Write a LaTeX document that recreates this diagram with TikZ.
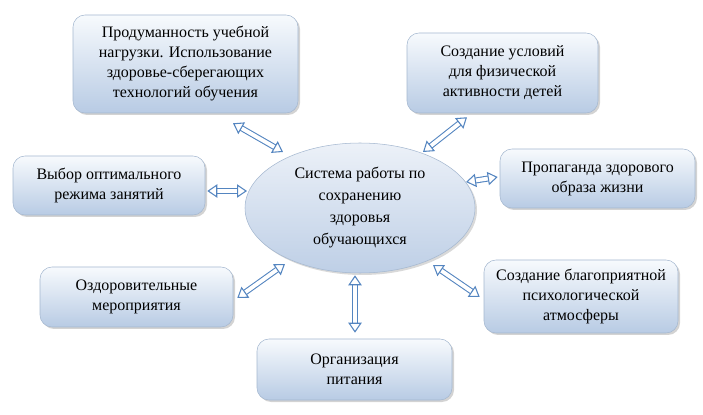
\documentclass[tikz,border=0pt]{standalone}
\usepackage{fontspec}
\setmainfont{Liberation Serif}
\usetikzlibrary{arrows.meta,shadows,shapes.geometric}

\definecolor{arrowblue}{RGB}{84,133,192}
\definecolor{boxtop}{RGB}{247,250,253}
\definecolor{boxbottom}{RGB}{184,203,228}
\definecolor{boxline}{RGB}{165,184,208}
\definecolor{ovaltop}{RGB}{236,241,248}
\definecolor{ovalbottom}{RGB}{190,207,230}

\begin{document}
\begin{tikzpicture}[x=0.75pt,y=0.75pt,
    block/.style={draw=boxline, rounded corners=9pt, top color=boxtop, bottom color=boxbottom,
      align=center, inner sep=0pt, font=\fontsize{12}{15}\selectfont,
      drop shadow={shadow xshift=1.5pt, shadow yshift=-1.5pt, opacity=0.35, fill=gray}},
    oval/.style={ellipse, draw=boxline, top color=ovaltop, bottom color=ovalbottom,
      align=center, inner sep=0pt, font=\fontsize{12}{16.5}\selectfont,
      drop shadow={shadow xshift=1.5pt, shadow yshift=-1.5pt, opacity=0.3, fill=gray}},
    link/.style={draw=arrowblue, line width=0.8pt, double=white, double distance=2.9pt,
      {Triangle[open,width=10pt,length=7.5pt]}-{Triangle[open,width=10pt,length=7.5pt]}}]
  \useasboundingbox (0,0) rectangle (703,414);

  % centre
  \node[oval, minimum width=172.5pt, minimum height=97.5pt] (sys) at (360,206)
    {Система работы по\\сохранению\\здоровья\\обучающихся};

  % boxes round it
  \node[block, minimum width=168.75pt, minimum height=73.5pt] (plan) at (185.5,350)
    {Продуманность учебной\\нагрузки. Использование\\здоровье-сберегающих\\технологий обучения};
  \node[block, minimum width=143.25pt, minimum height=60pt] (activ) at (502.5,341)
    {Создание условий\\для физической\\активности детей};
  \node[block, minimum width=146.25pt, minimum height=44.25pt] (propag) at (597.5,235.5)
    {Пропаганда здорового\\образа жизни};
  \node[block, minimum width=144pt, minimum height=44.25pt] (mode) at (109,228.5)
    {Выбор оптимального\\режима занятий};
  \node[block, minimum width=144.75pt, minimum height=45pt] (health) at (136.5,117)
    {Оздоровительные\\мероприятия};
  \node[block, minimum width=146.25pt, minimum height=45.75pt] (food) at (354.5,44.5)
    {Организация\\питания};
  \node[block, minimum width=145.5pt, minimum height=54.75pt] (psych) at (581,117.5)
    {Создание благоприятной\\психологической\\атмосферы};

  % double arrows
  \draw[link] ([shift={(47.5,-10)}]plan.south) -- ([shift={(-77,56)}]sys.center);
  \draw[link] ([shift={(-35.5,-4)}]activ.south) -- ([shift={(63,56)}]sys.center);
  \draw[link] ([shift={(-2,1.5)}]propag.west) -- ([shift={(106,26)}]sys.center);
  \draw[link] ([shift={(2,-5.5)}]mode.east) -- ([shift={(-113,17)}]sys.center);
  \draw[link] ([shift={(4,-1)}]health.east) -- ([shift={(-75,-56)}]sys.center);
  \draw[link] ([shift={(0.5,6)}]food.north) -- ([shift={(-5,-2)}]sys.south);
  \draw[link] ([shift={(-4,-0.5)}]psych.west) -- ([shift={(73,-57)}]sys.center);
\end{tikzpicture}
\end{document}
